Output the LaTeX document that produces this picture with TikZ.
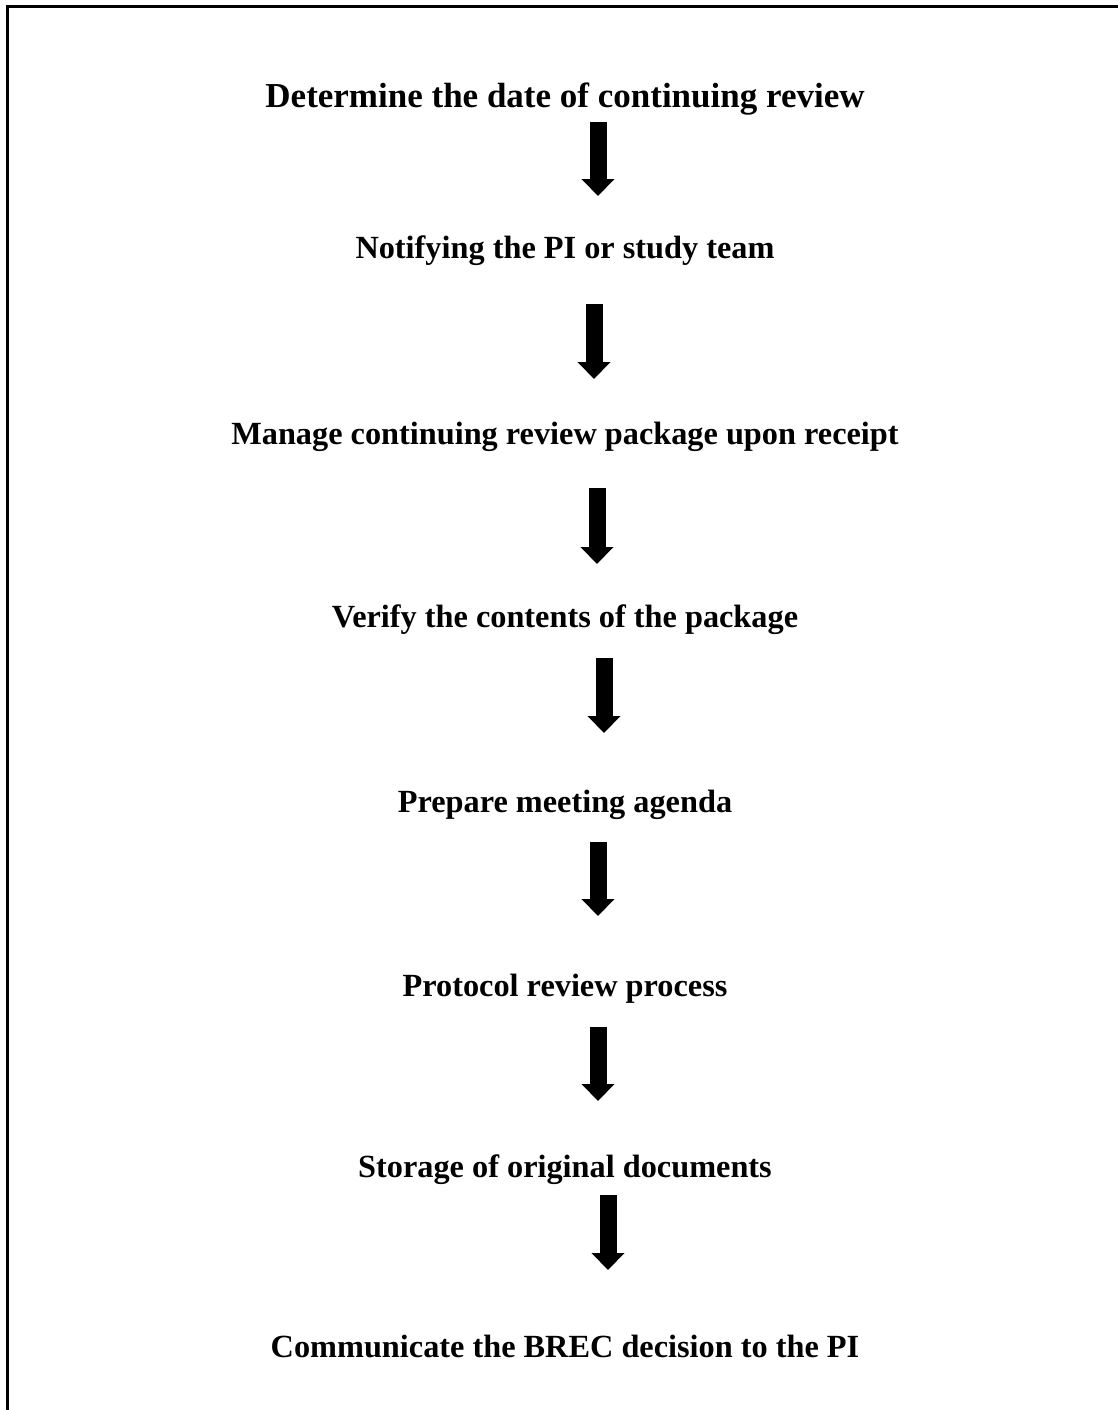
\documentclass[tikz,border=0pt]{standalone}
\usepackage{fontspec}
\setmainfont{Liberation Serif}
\usetikzlibrary{arrows.meta}
\begin{document}
\begin{tikzpicture}[x=1pt,y=-1pt,
  steptext/.style={anchor=base,inner sep=0pt,font=\fontsize{32.3}{38}\selectfont\bfseries},
  blockarrow/.style={line width=17pt,line cap=butt,-{Triangle[width=32pt,length=17pt]}}]
  \useasboundingbox (0,0) rectangle (1118,1410);
  % frame edges
  \coordinate (fbl) at (7,1410);
  \coordinate (ftl) at (7,7);
  \coordinate (ftr) at (1118,7);
  \draw[line width=3pt] (fbl) -- (ftl) -- (ftr);
  % steps
  \node[steptext,font=\fontsize{35}{41}\selectfont\bfseries] (s1) at (565,108) {Determine the date of continuing review};
  \node[steptext] (s2) at (565,258) {Notifying the PI or study team};
  \node[steptext] (s3) at (565,444) {Manage continuing review package upon receipt};
  \node[steptext] (s4) at (565,627) {Verify the contents of the package};
  \node[steptext] (s5) at (565,812) {Prepare meeting agenda};
  \node[steptext] (s6) at (565,996) {Protocol review process};
  \node[steptext] (s7) at (565,1177) {Storage of original documents};
  \node[steptext] (s8) at (565,1357) {Communicate the BREC decision to the PI};
  % arrow ends
  \coordinate (a1t) at (598,122);   \coordinate (a1b) at (598,196);
  \coordinate (a2t) at (594,304);   \coordinate (a2b) at (594,379);
  \coordinate (a3t) at (597,488);   \coordinate (a3b) at (597,564);
  \coordinate (a4t) at (604,658);   \coordinate (a4b) at (604,733);
  \coordinate (a5t) at (598,842);   \coordinate (a5b) at (598,916);
  \coordinate (a6t) at (598,1027);  \coordinate (a6b) at (598,1101);
  \coordinate (a7t) at (608,1195);  \coordinate (a7b) at (608,1270);
  % arrows between steps
  \foreach \i in {1,...,7} \draw[blockarrow] (a\i t) -- (a\i b);
\end{tikzpicture}
\end{document}
